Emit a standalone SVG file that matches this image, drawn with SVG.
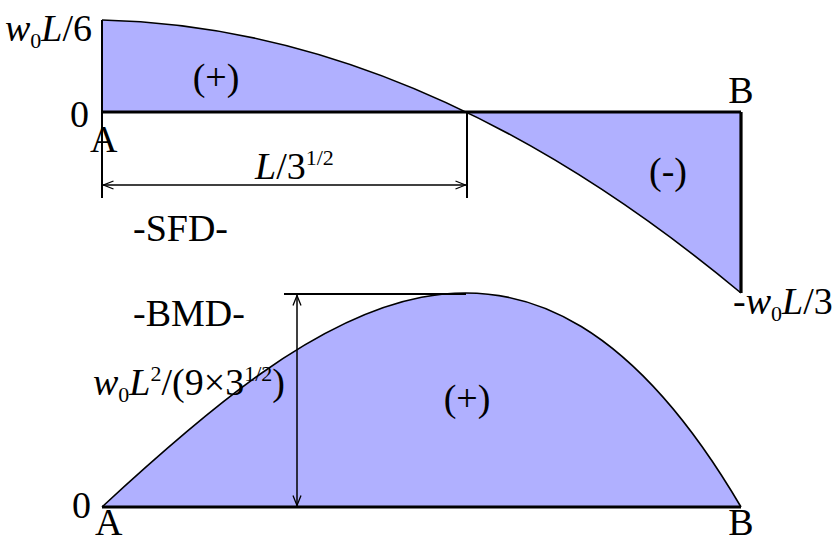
<svg xmlns="http://www.w3.org/2000/svg" width="835" height="544" viewBox="0 0 835 544">
<style>
text{font-family:"Liberation Serif","Times New Roman",serif;font-size:38px;fill:#000}
.i{font-style:italic}
.s{font-size:22px}
.fill{fill:#b0b0ff;stroke:none}
.curve{fill:none;stroke:#000;stroke-width:1.6}
.axis{stroke:#000;stroke-width:3.2;fill:none}
.thin{stroke:#000;stroke-width:2;fill:none}
.dim{stroke:#000;stroke-width:1.5;fill:none}
</style>
<defs>
<marker id="ar" viewBox="0 0 12 10" refX="11.5" refY="5" markerWidth="12" markerHeight="10" markerUnits="userSpaceOnUse" orient="auto-start-reverse">
<path d="M1,1 L11,5 L1,9" fill="none" stroke="#000" stroke-width="1.3"/>
</marker>
</defs>

<g id="sfd">
<path class="fill" d="M102,112 L102,20 Q421.5,27 741,293 L741,112 Z"/>
<path class="curve" d="M102,20 Q421.5,27 741,293"/>
<line class="axis" x1="102" y1="112" x2="741" y2="112"/>
<line class="thin" x1="102" y1="20" x2="102" y2="198"/>
<line class="axis" x1="741" y1="112" x2="741" y2="293"/>
<line class="thin" x1="467" y1="112" x2="467" y2="198"/>
</g>

<g id="bmd">
<path class="fill" d="M102,507 C315,310.1 528,144.8 741,507 Z"/>
<path class="curve" d="M102,507 C315,310.1 528,144.8 741,507"/>
<line class="axis" x1="102" y1="507" x2="741" y2="507"/>
</g>

<g id="connectors">
<line class="dim" x1="103" y1="185" x2="466" y2="185" marker-start="url(#ar)" marker-end="url(#ar)"/>
<line class="dim" x1="297" y1="295" x2="297" y2="506" marker-start="url(#ar)" marker-end="url(#ar)"/>
<line class="thin" x1="284" y1="294" x2="466" y2="294"/>
</g>

<g id="labels">
<text x="5" y="41"><tspan class="i">w</tspan><tspan class="s" dy="7">0</tspan><tspan class="i" dy="-7">L</tspan>/6</text>
<text x="70" y="127">0</text>
<text x="90" y="152">A</text>
<text x="216" y="90" text-anchor="middle">(+)</text>
<text x="741" y="103" text-anchor="middle">B</text>
<text x="668" y="184" text-anchor="middle">(-)</text>
<text x="255" y="179"><tspan class="i">L</tspan>/3<tspan class="s" dy="-14">1/2</tspan></text>
<text x="133" y="241">-SFD-</text>
<text x="733" y="314">-<tspan class="i">w</tspan><tspan class="s" dy="7">0</tspan><tspan class="i" dy="-7">L</tspan>/3</text>
<text x="133" y="326">-BMD-</text>
<text x="93" y="395"><tspan class="i">w</tspan><tspan class="s" dy="7">0</tspan><tspan class="i" dy="-7">L</tspan><tspan class="s" dy="-14">2</tspan><tspan dy="14">/(9×3</tspan><tspan class="s" dy="-14">1/2</tspan><tspan dy="14">)</tspan></text>
<text x="467" y="411" text-anchor="middle">(+)</text>
<text x="72" y="518">0</text>
<text x="95" y="535">A</text>
<text x="741" y="535" text-anchor="middle">B</text>
</g>
</svg>
